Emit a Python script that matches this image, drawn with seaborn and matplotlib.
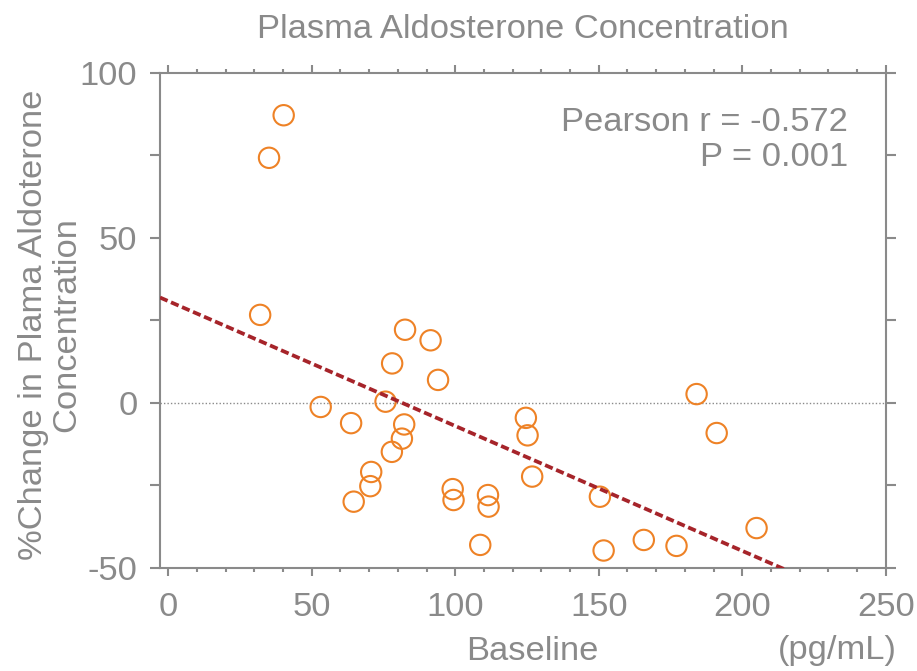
import numpy as np
import pandas as pd
import matplotlib
matplotlib.use("Agg")
import matplotlib.pyplot as plt
from matplotlib.ticker import MultipleLocator
import seaborn as sns

# ---- data ----
baseline = [40.2, 35.1, 32.0, 53.1, 63.7, 75.7, 78.0, 82.5, 91.4, 94.0, 82.2,
            81.4, 77.9, 70.7, 70.4, 64.6, 99.1, 99.4, 111.4, 111.6, 108.7,
            124.6, 125.2, 126.8, 150.4, 151.7, 165.7, 177.1, 184.1, 191.1, 205.0]
pct_change = [87.2, 74.3, 26.7, -1.2, -6.1, 0.4, 12.0, 22.2, 19.0, 7.0, -6.5,
              -10.8, -14.8, -20.9, -25.2, -29.9, -26.1, -29.4, -27.9, -31.4, -43.0,
              -4.5, -9.8, -22.3, -28.4, -44.7, -41.5, -43.3, 2.7, -9.1, -37.9]
x_ticks = [0, 50, 100, 150, 200, 250]
y_ticks = [-50, 0, 50, 100]
stats_text = "Pearson r = -0.572\nP = 0.001"
title = "Plasma Aldosterone Concentration"
y_label = "%Change in Plama Aldoterone\nConcentration"
x_label = "Baseline"
x_unit = "(pg/mL)"

df = pd.DataFrame({"baseline": baseline, "change": pct_change})

sns.set_style("ticks")
plt.rcParams["font.family"] = ["Liberation Sans", "DejaVu Sans"]
plt.rcParams["axes.unicode_minus"] = False

GRAY = "#8a8a8a"
ORANGE = "#EE8226"
DARKRED = "#A6242A"
FS = 24.8

fig = plt.figure(figsize=(9.17, 6.71), dpi=100)
ax = fig.add_axes([160/917, 1-568/671, (885.7-160)/917, (568-73)/671])

ax.set_xlim(-2.9, 250)
ax.set_ylim(-50, 100)

ax.axhline(0, color=GRAY, lw=1.0, ls=(0, (1, 1.5)), zorder=1)

sns.scatterplot(data=df, x="baseline", y="change", ax=ax, s=215,
                color=ORANGE, facecolors="none", edgecolor=ORANGE,
                linewidth=1.5, zorder=3)

sns.regplot(data=df, x="baseline", y="change", ax=ax, scatter=False, ci=None,
            truncate=False,
            line_kws=dict(color=DARKRED, lw=2.7, ls=(0, (2.2, 1.0)), zorder=4))

ax.set_xlim(-2.9, 250)
ax.set_ylim(-50, 100)

for s in ax.spines.values():
    s.set_visible(True)
    s.set_color(GRAY)
    s.set_linewidth(1.5)

ax.xaxis.set_major_locator(MultipleLocator(50))
ax.xaxis.set_minor_locator(MultipleLocator(10))
ax.set_xticks(x_ticks)
ax.yaxis.set_major_locator(MultipleLocator(50))
ax.yaxis.set_minor_locator(MultipleLocator(25))
ax.set_yticks(y_ticks)

ax.tick_params(axis="both", which="both", direction="out", color=GRAY,
               width=1.5, labelcolor=GRAY, labelsize=FS,
               top=True, right=True, labeltop=False, labelright=False)
ax.tick_params(axis="x", which="major", length=6.0, pad=11)
ax.tick_params(axis="x", which="minor", length=2.6)
ax.tick_params(axis="y", which="major", length=7.2, pad=9)
ax.tick_params(axis="y", which="minor", length=7.2)

ax.set_xlabel("")
ax.set_ylabel("")

ax.text(0.948, 0.865, stats_text, transform=ax.transAxes, ha="right",
        va="center", multialignment="right", fontsize=FS, color=GRAY,
        linespacing=1.18)

fig.text(523/917, 1-30/671, title, ha="center", va="center", fontsize=FS, color=GRAY)
fig.text(50/917, 1-325/671, y_label, ha="center", va="center", rotation=90,
         multialignment="center", fontsize=FS, color=GRAY, linespacing=1.1)
fig.text(532/917, 1-652/671, x_label, ha="center", va="center", fontsize=FS, color=GRAY)
fig.text(897/917, 1-650/671, x_unit, ha="right", va="center", fontsize=FS, color=GRAY)

fig.savefig("out.png", dpi=100)
